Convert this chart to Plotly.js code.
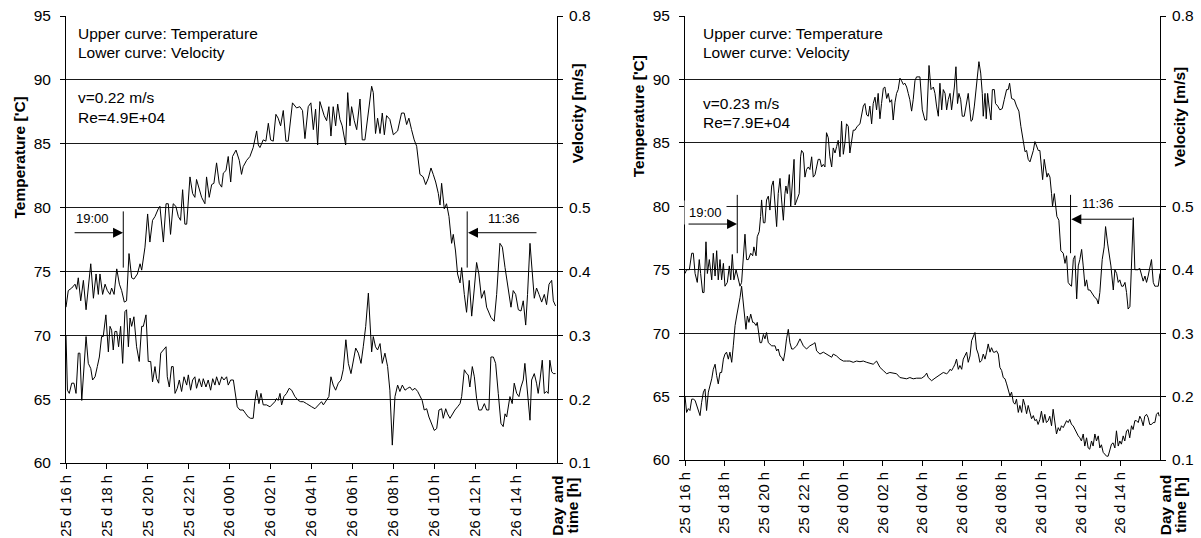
<!DOCTYPE html>
<html><head><meta charset="utf-8">
<script src="https://cdn.plot.ly/plotly-3.0.1.min.js"></script>
<style>html,body{margin:0;padding:0;background:#fff}#chart{width:1201px;height:538px}</style>
</head><body><div id="chart"></div>
<script>
// ---- tick labels (hours after 25 d 16 h) ----
const tickHours = [0,2,4,6,8,10,12,14,16,18,20,22];
const tickLabels = ["25 d 16 h","25 d 18 h","25 d 20 h","25 d 22 h","26 d 00 h","26 d 02 h","26 d 04 h","26 d 06 h","26 d 08 h","26 d 10 h","26 d 12 h","26 d 14 h"];
const velTickVals = [0.1,0.2,0.3,0.4,0.5,0.6,0.7,0.8];
const velTickLabels = ["0.1","0.2","0.3","0.4","0.5","","","0.8"];

// ---- left chart (v=0.22 m/s) : temperature [°C] ----
const leftTempHours = [0.00,0.11,0.28,0.44,0.52,0.60,0.72,0.85,0.98,1.09,1.21,1.34,1.47,1.58,1.66,1.79,1.91,2.02,2.15,2.23,2.35,2.48,2.61,2.72,2.85,2.96,3.08,3.21,3.32,3.49,3.62,3.70,3.86,3.99,4.10,4.23,4.35,4.51,4.59,4.76,4.89,5.00,5.11,5.24,5.37,5.49,5.60,5.70,5.81,5.90,6.06,6.19,6.30,6.38,6.51,6.63,6.79,6.87,7.00,7.12,7.23,7.36,7.49,7.61,7.69,7.82,7.93,8.05,8.14,8.31,8.47,8.58,8.66,8.83,8.99,9.15,9.32,9.40,9.48,9.64,9.77,9.89,10.00,10.13,10.26,10.37,10.49,10.62,10.75,10.86,11.07,11.27,11.43,11.56,11.68,11.84,11.97,12.09,12.20,12.30,12.41,12.53,12.62,12.74,12.85,12.95,13.06,13.18,13.28,13.39,13.50,13.67,13.77,13.88,13.96,14.09,14.21,14.37,14.48,14.61,14.78,14.94,15.02,15.13,15.23,15.35,15.46,15.56,15.67,15.83,16.00,16.21,16.40,16.53,16.65,16.76,16.89,17.02,17.14,17.30,17.46,17.58,17.71,17.84,17.95,18.07,18.20,18.28,18.36,18.49,18.60,18.72,18.85,18.93,19.04,19.14,19.26,19.34,19.47,19.58,19.71,19.83,19.96,20.07,20.18,20.31,20.45,20.56,20.64,20.77,20.93,21.05,21.21,21.33,21.46,21.62,21.75,21.86,21.98,22.11,22.24,22.35,22.47,22.56,22.68,22.89,23.00,23.12,23.25,23.38,23.49,23.61,23.74,23.82,23.93];
const leftTemp = [72.2,73.5,73.7,74.0,73.6,74.5,72.7,74.3,72.0,73.7,75.6,72.9,74.8,73.2,74.8,73.2,74.0,73.5,73.2,73.7,73.2,75.2,74.0,73.5,72.6,72.7,76.4,74.5,74.4,74.8,75.6,75.1,76.9,79.5,77.3,79.0,79.3,79.9,80.1,77.3,80.3,80.3,77.9,80.3,80.1,79.3,79.0,81.4,78.7,78.7,82.4,81.1,80.8,82.2,81.4,80.8,80.3,82.4,80.8,81.8,81.9,83.5,81.9,81.6,82.7,82.9,84.0,82.0,84.0,84.5,83.7,82.6,83.2,83.7,84.0,84.7,86.0,84.9,84.7,85.3,85.2,86.6,85.3,85.2,87.3,87.0,86.4,87.6,85.2,85.2,88.2,87.8,87.9,87.6,85.4,87.9,88.2,86.1,87.7,84.9,88.3,87.7,87.2,86.8,87.9,85.6,87.9,86.4,88.1,86.9,86.4,84.9,89.0,86.4,87.9,86.8,86.1,88.5,85.3,85.3,87.7,89.5,89.0,85.8,87.0,85.8,87.4,85.7,87.2,86.9,85.7,86.0,87.4,87.4,86.5,87.0,86.1,85.3,84.8,82.6,82.4,81.8,82.3,83.1,82.6,82.0,81.1,80.2,81.9,79.9,80.3,79.3,77.2,77.9,76.6,74.8,74.1,75.3,73.2,71.8,74.3,71.5,73.7,75.7,74.8,72.9,73.5,72.2,71.9,71.4,71.1,73.2,77.2,76.9,75.3,73.5,72.2,73.5,73.2,72.0,71.9,72.7,70.8,73.2,77.2,72.9,73.7,73.2,72.6,73.2,72.4,74.0,74.3,72.7,72.3];

// ---- left chart : velocity [m/s] ----
const leftVelHours = [0.00,0.07,0.16,0.28,0.39,0.49,0.60,0.68,0.77,0.88,0.98,1.09,1.21,1.30,1.42,1.53,1.63,1.74,1.82,1.95,2.07,2.15,2.23,2.31,2.39,2.48,2.57,2.67,2.77,2.88,2.96,3.05,3.13,3.21,3.32,3.45,3.58,3.70,3.78,3.91,4.02,4.14,4.23,4.35,4.43,4.53,4.63,4.76,4.89,4.95,5.05,5.16,5.24,5.33,5.44,5.54,5.65,5.77,5.90,5.98,6.09,6.19,6.30,6.38,6.51,6.63,6.71,6.84,6.95,7.07,7.17,7.28,7.36,7.49,7.61,7.72,7.85,7.93,8.05,8.18,8.26,8.37,8.50,8.66,8.79,8.91,9.02,9.15,9.23,9.32,9.43,9.53,9.64,9.80,9.97,10.10,10.21,10.29,10.37,10.46,10.54,10.65,10.78,10.91,11.03,11.19,11.35,11.47,11.60,11.76,11.84,12.01,12.17,12.33,12.49,12.58,12.74,12.85,12.95,13.06,13.18,13.31,13.44,13.55,13.68,13.80,13.93,14.04,14.16,14.29,14.42,14.53,14.65,14.78,14.86,14.94,15.02,15.13,15.23,15.35,15.46,15.59,15.72,15.83,15.95,16.08,16.21,16.32,16.44,16.57,16.70,16.81,16.93,17.06,17.19,17.30,17.41,17.51,17.63,17.74,17.87,18.00,18.12,18.23,18.36,18.44,18.56,18.65,18.77,18.88,19.01,19.14,19.26,19.34,19.47,19.58,19.66,19.74,19.86,19.96,20.07,20.18,20.31,20.45,20.56,20.67,20.77,20.89,21.00,21.13,21.26,21.37,21.46,21.54,21.62,21.70,21.81,21.91,22.03,22.14,22.24,22.35,22.43,22.56,22.68,22.76,22.89,23.00,23.08,23.17,23.28,23.38,23.49,23.57,23.65,23.74,23.82,23.93];
const leftVel = [0.300,0.214,0.209,0.225,0.225,0.209,0.272,0.272,0.198,0.261,0.298,0.256,0.248,0.230,0.235,0.251,0.266,0.298,0.298,0.332,0.274,0.314,0.308,0.277,0.306,0.306,0.282,0.314,0.256,0.337,0.340,0.282,0.327,0.314,0.329,0.282,0.259,0.314,0.314,0.332,0.259,0.259,0.227,0.251,0.232,0.225,0.272,0.277,0.282,0.235,0.219,0.251,0.251,0.209,0.217,0.230,0.212,0.235,0.222,0.238,0.214,0.230,0.235,0.217,0.232,0.219,0.232,0.219,0.230,0.214,0.232,0.222,0.235,0.222,0.235,0.230,0.235,0.222,0.230,0.230,0.209,0.188,0.183,0.183,0.177,0.172,0.170,0.170,0.196,0.214,0.193,0.209,0.191,0.191,0.188,0.193,0.196,0.201,0.198,0.209,0.191,0.204,0.209,0.217,0.214,0.204,0.198,0.196,0.196,0.193,0.191,0.188,0.185,0.191,0.196,0.191,0.198,0.204,0.235,0.222,0.214,0.225,0.230,0.246,0.293,0.256,0.240,0.261,0.280,0.272,0.256,0.282,0.314,0.366,0.319,0.274,0.298,0.282,0.277,0.287,0.256,0.272,0.251,0.214,0.128,0.204,0.222,0.212,0.222,0.214,0.217,0.219,0.214,0.217,0.212,0.206,0.198,0.183,0.185,0.172,0.162,0.151,0.154,0.183,0.185,0.170,0.185,0.177,0.170,0.177,0.183,0.188,0.193,0.204,0.246,0.240,0.238,0.219,0.251,0.235,0.201,0.183,0.183,0.193,0.183,0.183,0.266,0.266,0.256,0.209,0.162,0.157,0.177,0.172,0.188,0.204,0.193,0.225,0.209,0.204,0.219,0.230,0.256,0.209,0.167,0.230,0.240,0.225,0.209,0.230,0.261,0.209,0.212,0.209,0.261,0.243,0.240,0.240];

// ---- right chart (v=0.23 m/s) : temperature [°C] ----
const rightTempHours = [0.00,0.08,0.22,0.34,0.42,0.51,0.62,0.72,0.79,0.89,0.96,1.06,1.13,1.23,1.35,1.43,1.52,1.60,1.68,1.77,1.85,1.94,2.02,2.14,2.24,2.31,2.39,2.47,2.58,2.69,2.78,2.86,2.95,3.03,3.11,3.20,3.32,3.42,3.48,3.59,3.65,3.75,3.82,3.87,3.96,4.04,4.12,4.21,4.29,4.38,4.46,4.55,4.63,4.71,4.80,4.88,4.97,5.05,5.10,5.17,5.27,5.34,5.44,5.51,5.56,5.64,5.77,5.84,5.89,5.98,6.06,6.14,6.23,6.31,6.40,6.48,6.57,6.65,6.73,6.82,6.90,6.99,7.07,7.15,7.24,7.32,7.41,7.49,7.58,7.66,7.74,7.83,7.91,8.00,8.08,8.16,8.25,8.33,8.42,8.50,8.59,8.70,8.84,8.92,9.01,9.09,9.18,9.26,9.34,9.43,9.51,9.60,9.68,9.76,9.85,9.93,10.02,10.10,10.19,10.27,10.35,10.44,10.52,10.61,10.69,10.77,10.86,10.94,11.03,11.11,11.20,11.28,11.36,11.45,11.53,11.62,11.70,11.87,11.99,12.12,12.21,12.33,12.43,12.55,12.63,12.71,12.80,12.88,12.97,13.05,13.14,13.22,13.30,13.39,13.47,13.61,13.69,13.77,13.84,13.93,14.01,14.11,14.23,14.31,14.45,14.52,14.62,14.73,14.85,14.94,15.02,15.07,15.16,15.22,15.29,15.36,15.46,15.53,15.63,15.69,15.80,15.91,16.03,16.13,16.25,16.33,16.40,16.50,16.64,16.75,16.87,16.97,17.09,17.18,17.26,17.34,17.43,17.51,17.60,17.68,17.76,17.85,17.93,18.02,18.07,18.15,18.22,18.29,18.35,18.44,18.52,18.57,18.66,18.72,18.79,18.89,18.99,19.11,19.20,19.28,19.36,19.45,19.53,19.62,19.70,19.79,19.87,19.95,20.04,20.12,20.21,20.29,20.37,20.46,20.54,20.63,20.71,20.80,20.88,20.96,21.08,21.18,21.25,21.35,21.42,21.52,21.64,21.72,21.81,21.89,21.97,22.06,22.14,22.23,22.31,22.39,22.48,22.56,22.65,22.73,22.87,22.98,23.07,23.15,23.24,23.32,23.40,23.49,23.57,23.66,23.74,23.83,23.91,24.00];
const rightTemp = [74.7,75.0,75.0,76.3,76.3,74.7,74.0,75.8,74.7,73.2,73.2,77.2,74.7,75.8,74.2,76.3,74.5,76.5,74.2,75.8,74.2,75.5,73.7,74.0,75.3,74.2,76.2,74.2,75.0,74.2,73.7,74.0,76.1,77.8,75.8,75.8,76.3,76.1,76.8,76.1,77.6,78.0,79.2,80.5,78.7,78.7,80.5,80.8,79.7,81.6,82.0,79.7,78.4,81.0,82.2,80.5,78.9,81.0,81.6,81.0,82.5,80.0,82.7,83.7,80.1,80.5,81.0,83.9,84.4,84.2,82.3,82.9,83.1,82.9,83.9,82.3,82.5,83.1,83.7,83.7,83.1,83.3,83.1,85.8,85.4,83.9,83.1,84.6,84.2,84.7,85.2,83.9,86.7,84.1,85.0,86.5,86.3,84.2,85.0,86.0,86.0,86.3,86.5,87.1,87.9,88.1,87.2,87.1,87.9,86.5,88.1,88.6,87.6,88.9,86.9,88.1,89.3,89.4,88.5,88.9,88.2,88.4,86.8,88.2,88.9,89.2,90.1,89.9,89.6,89.7,89.4,88.9,88.4,87.5,88.4,89.9,90.2,90.2,87.6,86.8,86.8,91.1,89.2,89.4,88.9,87.9,87.1,89.7,87.6,89.2,88.9,87.6,88.4,88.9,87.6,89.4,91.0,88.1,88.9,88.4,87.1,87.1,88.1,88.9,86.7,86.8,87.9,89.4,91.4,90.5,88.9,87.1,88.9,86.9,88.9,87.9,86.8,89.2,89.2,88.1,87.9,87.6,87.7,88.4,89.2,89.2,89.7,88.5,88.4,87.9,87.5,86.3,85.0,84.3,84.4,83.7,83.5,83.9,84.4,85.1,84.7,84.4,84.4,83.1,82.1,83.7,82.9,82.3,82.6,82.3,81.0,80.0,81.0,80.3,79.2,78.9,76.5,76.3,75.5,76.1,74.0,73.8,73.7,75.8,76.1,72.7,75.3,75.8,76.6,75.3,73.7,74.2,73.4,73.4,73.2,72.9,72.8,72.7,72.3,73.2,75.8,76.8,78.4,77.1,76.3,75.3,73.4,75.0,74.7,74.0,74.2,73.7,73.7,74.0,73.2,71.9,72.1,75.8,79.1,75.0,75.0,75.1,74.5,74.1,74.5,74.0,74.5,75.3,75.8,74.0,73.7,73.7,73.7,74.7];

// ---- right chart : velocity [m/s] ----
const rightVelHours = [0.00,0.08,0.17,0.25,0.34,0.42,0.51,0.59,0.67,0.76,0.84,0.93,1.01,1.09,1.18,1.26,1.35,1.43,1.52,1.60,1.68,1.77,1.85,1.94,2.02,2.10,2.19,2.27,2.36,2.44,2.53,2.61,2.69,2.78,2.86,2.95,3.03,3.08,3.15,3.23,3.32,3.42,3.48,3.59,3.65,3.72,3.79,3.87,3.96,4.04,4.12,4.21,4.29,4.38,4.46,4.55,4.63,4.71,4.80,4.88,4.97,5.05,5.13,5.22,5.30,5.39,5.47,5.64,5.81,5.98,6.14,6.31,6.48,6.57,6.65,6.82,6.99,7.15,7.32,7.41,7.49,7.66,7.83,8.00,8.16,8.33,8.50,8.67,8.84,9.01,9.18,9.34,9.51,9.68,9.85,10.02,10.19,10.35,10.52,10.69,10.86,11.03,11.20,11.36,11.53,11.70,11.96,12.13,12.21,12.29,12.46,12.63,12.80,12.97,13.05,13.22,13.30,13.39,13.47,13.56,13.64,13.72,13.81,13.89,13.98,14.06,14.15,14.23,14.31,14.40,14.48,14.57,14.65,14.73,14.82,14.90,14.99,15.07,15.16,15.24,15.32,15.41,15.49,15.58,15.66,15.74,15.83,15.91,16.00,16.08,16.17,16.25,16.33,16.42,16.50,16.59,16.67,16.75,16.84,16.92,17.01,17.09,17.18,17.26,17.34,17.43,17.51,17.60,17.68,17.76,17.84,17.93,18.01,18.10,18.18,18.26,18.35,18.43,18.52,18.60,18.69,18.77,18.86,18.94,19.02,19.11,19.28,19.36,19.44,19.53,19.61,19.70,19.78,19.87,19.95,20.03,20.12,20.20,20.29,20.37,20.45,20.54,20.62,20.71,20.79,20.88,20.96,21.04,21.13,21.21,21.30,21.38,21.46,21.55,21.63,21.72,21.80,21.89,21.97,22.05,22.14,22.22,22.31,22.39,22.47,22.56,22.64,22.73,22.81,22.90,22.98,23.06,23.15,23.23,23.32,23.40,23.48,23.57,23.65,23.74,23.82,23.91,23.96];
const rightVel = [0.201,0.175,0.181,0.178,0.196,0.196,0.194,0.186,0.175,0.170,0.191,0.207,0.212,0.178,0.207,0.217,0.228,0.243,0.251,0.233,0.220,0.238,0.238,0.259,0.267,0.270,0.259,0.270,0.254,0.280,0.312,0.327,0.340,0.356,0.374,0.348,0.322,0.306,0.327,0.317,0.330,0.317,0.317,0.312,0.317,0.301,0.285,0.285,0.298,0.291,0.301,0.285,0.283,0.280,0.280,0.280,0.272,0.275,0.264,0.262,0.256,0.270,0.291,0.306,0.285,0.275,0.275,0.280,0.291,0.280,0.275,0.280,0.283,0.285,0.272,0.267,0.270,0.267,0.264,0.262,0.267,0.264,0.259,0.256,0.256,0.256,0.254,0.256,0.255,0.256,0.254,0.253,0.251,0.256,0.246,0.241,0.236,0.238,0.237,0.236,0.230,0.229,0.228,0.230,0.228,0.229,0.229,0.233,0.237,0.230,0.225,0.229,0.233,0.236,0.238,0.236,0.238,0.243,0.241,0.246,0.251,0.259,0.243,0.249,0.243,0.259,0.264,0.270,0.254,0.264,0.288,0.296,0.301,0.275,0.267,0.254,0.257,0.267,0.259,0.270,0.283,0.270,0.277,0.270,0.270,0.272,0.267,0.246,0.241,0.230,0.228,0.220,0.212,0.201,0.207,0.191,0.188,0.196,0.175,0.186,0.175,0.196,0.186,0.173,0.186,0.175,0.165,0.170,0.162,0.164,0.156,0.164,0.177,0.159,0.172,0.159,0.162,0.169,0.154,0.180,0.154,0.141,0.151,0.146,0.154,0.151,0.162,0.159,0.164,0.156,0.154,0.148,0.143,0.138,0.135,0.130,0.141,0.122,0.135,0.119,0.117,0.130,0.122,0.141,0.130,0.138,0.119,0.124,0.112,0.109,0.106,0.106,0.117,0.125,0.127,0.119,0.146,0.122,0.130,0.125,0.138,0.130,0.146,0.148,0.135,0.154,0.148,0.162,0.162,0.159,0.169,0.164,0.154,0.169,0.172,0.167,0.156,0.156,0.159,0.159,0.172,0.175,0.169];

// ---- layout helpers (page pixels -> paper fractions) ----
const W = 1201, H = 538, MT = 16, MB = 75;
const PH = H - MT - MB;
const fx = p => p / W;
const fy = p => (H - MB - p) / PH;
const FONT = '"Liberation Sans", Arial, sans-serif';
const FS = 15.5;

const lineStyle = {color: '#000', width: 1};
const traces = [
  {x: leftTempHours, y: leftTemp, xaxis: 'x', yaxis: 'y', mode: 'lines', line: lineStyle, hoverinfo: 'skip'},
  {x: leftVelHours, y: leftVel, xaxis: 'x', yaxis: 'y2', mode: 'lines', line: lineStyle, hoverinfo: 'skip'},
  {x: rightTempHours, y: rightTemp, xaxis: 'x2', yaxis: 'y3', mode: 'lines', line: lineStyle, hoverinfo: 'skip'},
  {x: rightVelHours, y: rightVel, xaxis: 'x2', yaxis: 'y4', mode: 'lines', line: lineStyle, hoverinfo: 'skip'}
];

const xCommon = {
  range: [0, 24], tickvals: tickHours, ticktext: tickLabels, tickangle: -90,
  ticks: 'outside', ticklen: 5, tickcolor: '#000', showline: true, linecolor: '#000', linewidth: 1,
  showgrid: false, zeroline: false, tickfont: {family: FONT, size: 14.8, color: '#000'}, fixedrange: true
};
const tCommon = {
  range: [60, 95], tick0: 60, dtick: 5, ticks: 'outside', ticklen: 5, tickcolor: '#000',
  showline: true, linecolor: '#000', linewidth: 1, showgrid: true, gridcolor: '#1a1a1a', gridwidth: 1,
  zeroline: false, tickfont: {family: FONT, size: FS, color: '#000'}, ticklabelstandoff: 6, fixedrange: true
};
const vCommon = {
  range: [0.1, 0.8], tickvals: velTickVals, ticktext: velTickLabels, side: 'right', ticks: 'outside', ticklen: 5,
  tickcolor: '#000', showline: true, linecolor: '#000', linewidth: 1, showgrid: false, zeroline: false,
  tickfont: {family: FONT, size: FS, color: '#000'}, ticklabelstandoff: 3, fixedrange: true
};

const txt = (s, x, y, size, opts) => Object.assign({
  text: s, xref: 'paper', yref: 'paper', x: fx(x), y: fy(y), xanchor: 'left', yanchor: 'middle',
  showarrow: false, font: {family: FONT, size: size, color: '#000'}, borderpad: 0
}, opts || {});
const vtitle = (s, x, y) => ({
  text: '<b>' + s + '</b>', xref: 'paper', yref: 'paper', x: fx(x), y: fy(y), xanchor: 'center', yanchor: 'middle',
  textangle: -90, showarrow: false, font: {family: FONT, size: FS, color: '#000'}
});
const arrow = (xr, yr, x, y, ax) => ({
  xref: xr, yref: yr, x: x, y: y, ax: ax, ay: 0, text: '', showarrow: true,
  arrowhead: 2, arrowsize: 2, arrowwidth: 1, arrowcolor: '#000', standoff: 0
});

const annotations = [
  txt('Upper curve: Temperature', 77, 33.8, FS),
  txt('Lower curve: Velocity', 77, 52.1, FS),
  txt('v=0.22 m/s', 77, 97.1, FS),
  txt('Re=4.9E+04', 77, 117.1, FS),
  txt('Upper curve: Temperature', 702, 33.8, FS),
  txt('Lower curve: Velocity', 702, 52.1, FS),
  txt('v=0.23 m/s', 702, 103.8, FS),
  txt('Re=7.9E+04', 702, 122.8, FS),
  txt('19:00', 75, 218.8, 13),
  txt('11:36', 487, 218.8, 13),
  txt('19:00', 684, 212.2, 13, {bgcolor: '#fff', borderpad: 4}),
  txt('11:36', 1077, 203.8, 13, {bgcolor: '#fff', borderpad: 4}),
  vtitle("Temperature ['C]", 18.5, 158),
  vtitle("Temperature ['C]", 638.3, 116),
  vtitle('Velocity [m/s]', 577, 113.3),
  vtitle('Velocity [m/s]', 1180, 116.7),
  vtitle('Day and', 557.8, 506),
  vtitle('time [h]', 572.5, 506),
  vtitle('Day and', 1165.7, 505.5),
  vtitle('time [h]', 1180.5, 505.5),
  arrow('x', 'y', 2.79, 78.03, -50),
  arrow('x', 'y', 19.65, 78.03, 70),
  arrow('x2', 'y3', 2.63, 78.6, -50),
  arrow('x2', 'y3', 19.52, 78.98, 62)
];

const vline = (xr, yr, x, y0, y1) => ({type: 'line', xref: xr, yref: yr, x0: x, x1: x, y0: y0, y1: y1, line: {color: '#000', width: 1}});
const shapes = [
  vline('x', 'y', 2.80, 75.3, 79.7),
  vline('x', 'y', 19.61, 75.3, 79.7),
  vline('x2', 'y3', 2.64, 76.3, 80.9),
  vline('x2', 'y3', 19.48, 76.3, 80.9)
];

const layout = {
  width: W, height: H, margin: {l: 0, r: 0, t: MT, b: MB, pad: 0},
  paper_bgcolor: '#fff', plot_bgcolor: '#fff', showlegend: false,
  font: {family: FONT, color: '#000'},
  xaxis: Object.assign({}, xCommon, {domain: [fx(66), fx(557)], anchor: 'y'}),
  yaxis: Object.assign({}, tCommon, {domain: [0, 1], anchor: 'x'}),
  yaxis2: Object.assign({}, vCommon, {overlaying: 'y', anchor: 'x'}),
  xaxis2: Object.assign({}, xCommon, {domain: [fx(685), fx(1160)], anchor: 'y3'}),
  yaxis3: Object.assign({}, tCommon, {domain: [3 / PH, 1], anchor: 'x2'}),
  yaxis4: Object.assign({}, vCommon, {overlaying: 'y3', anchor: 'x2'}),
  annotations: annotations, shapes: shapes
};

Plotly.newPlot('chart', traces, layout, {staticPlot: true, displayModeBar: false});
</script>
</body></html>
